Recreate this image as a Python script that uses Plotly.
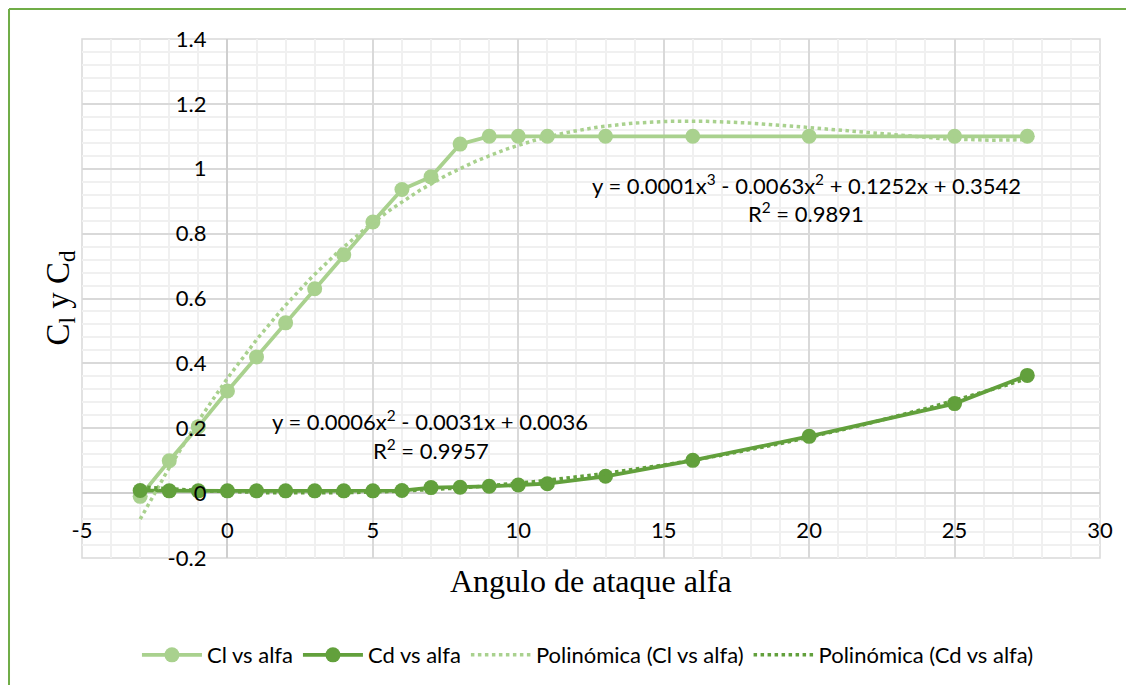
import numpy as np
import plotly.graph_objects as go

# ---- data ----
alpha = [-3, -2, -1, 0, 1, 2, 3, 4, 5, 6, 7, 8, 9, 10, 11, 13, 16, 20, 25, 27.5]
cl = [-0.01, 0.10, 0.205, 0.315, 0.42, 0.525, 0.63, 0.735, 0.836, 0.936, 0.975,
      1.076, 1.10, 1.10, 1.10, 1.10, 1.10, 1.10, 1.10, 1.10]
cd = [0.008, 0.007, 0.007, 0.007, 0.007, 0.007, 0.007, 0.007, 0.007, 0.008, 0.017,
      0.018, 0.021, 0.025, 0.029, 0.052, 0.101, 0.175, 0.276, 0.363]

eq_cl = "y = 0.0001x<sup>3</sup> - 0.0063x<sup>2</sup> + 0.1252x + 0.3542"
r2_cl = "R<sup>2</sup> = 0.9891"
eq_cd = "y = 0.0006x<sup>2</sup> - 0.0031x + 0.0036"
r2_cd = "R<sup>2</sup> = 0.9957"

x_ticks = [-5, 0, 5, 10, 15, 20, 25, 30]
y_ticks = [-0.2, 0, 0.2, 0.4, 0.6, 0.8, 1, 1.2, 1.4]
y_tick_text = ["-0.2", "0", "0.2", "0.4", "0.6", "0.8", "1", "1.2", "1.4"]

# ---- trendlines (polynomial fits, like Excel) ----
xa = np.array(alpha, dtype=float)
pcl = np.polyfit(xa, np.array(cl), 3)
pcd = np.polyfit(xa, np.array(cd), 2)
xs = np.linspace(xa.min(), xa.max(), 300)

C_CL = "#A9D18E"
C_CD = "#62A03C"
FONT = "Lato, 'Open Sans', sans-serif"
FS = 22

fig = go.Figure()
fig.add_trace(go.Scatter(x=alpha, y=cl, mode="lines+markers", name="Cl vs alfa",
                         line=dict(color=C_CL, width=3.8),
                         marker=dict(color=C_CL, size=15)))
fig.add_trace(go.Scatter(x=alpha, y=cd, mode="lines+markers", name="Cd vs alfa",
                         line=dict(color=C_CD, width=3.8),
                         marker=dict(color=C_CD, size=15)))
fig.add_trace(go.Scatter(x=xs, y=np.polyval(pcl, xs), mode="lines",
                         name="Polinómica (Cl vs alfa)",
                         line=dict(color=C_CL, width=3.5, dash="dot")))
fig.add_trace(go.Scatter(x=xs, y=np.polyval(pcd, xs), mode="lines",
                         name="Polinómica (Cd vs alfa)",
                         line=dict(color=C_CD, width=3.5, dash="dot")))

fig.update_layout(
    width=1134, height=685,
    margin=dict(l=74, r=42, t=31, b=135),
    paper_bgcolor="white", plot_bgcolor="white",
    font=dict(family=FONT, size=FS, color="#000000"),
    showlegend=True,
    legend=dict(orientation="h", x=0.497, xanchor="center", y=-0.187, yanchor="middle",
                font=dict(family=FONT, size=FS, color="#000000"),
                itemwidth=60, tracegroupgap=0),
    xaxis=dict(range=[-5, 30], tickvals=x_ticks, ticktext=[str(v) for v in x_ticks],
               showgrid=True, gridcolor="#D9D9D9", gridwidth=1.5,
               minor=dict(dtick=1, tick0=0, showgrid=True, gridcolor="#F0F0F0", gridwidth=1.5),
               zeroline=True, zerolinecolor="#CFCFCF", zerolinewidth=1.5,
               showline=False, ticks="",
               anchor="free", position=0.125, ticklabelstandoff=22,
               tickfont=dict(family=FONT, size=FS, color="#000000")),
    yaxis=dict(range=[-0.2, 1.4], tickvals=y_ticks, ticktext=y_tick_text,
               showgrid=True, gridcolor="#D9D9D9", gridwidth=1.5,
               minor=dict(dtick=0.04, tick0=0, showgrid=True, gridcolor="#F0F0F0", gridwidth=1.5),
               zeroline=True, zerolinecolor="#CFCFCF", zerolinewidth=1.5,
               showline=False, ticks="",
               anchor="free", position=5 / 35, ticklabelstandoff=21,
               tickfont=dict(family=FONT, size=FS, color="#000000")),
)

# plot area frame
fig.add_shape(type="rect", xref="x domain", yref="y domain", x0=0, x1=1, y0=0, y1=1,
              line=dict(color="#D9D9D9", width=1.5), layer="below")
# chart-area border (green): top and left edges
fig.add_shape(type="line", xref="paper", yref="paper", x0=-0.0717, x1=1.03, y0=1.0578, y1=1.0578,
              line=dict(color="#70AD47", width=2))
fig.add_shape(type="line", xref="paper", yref="paper", x0=-0.0717, x1=-0.0717, y0=-0.32, y1=1.0578,
              line=dict(color="#70AD47", width=2))

# axis titles
fig.add_annotation(text="Angulo de ataque alfa", xref="paper", yref="paper",
                   x=0.5, y=(557 - 580) / 519, xanchor="center", yanchor="middle",
                   showarrow=False, font=dict(family="Liberation Serif, Times New Roman, serif",
                                              size=32, color="#000000"))
fig.add_annotation(text="C<sub>l</sub> y C<sub>d</sub>", xref="paper", yref="paper",
                   x=(60 - 82) / 1018, y=0.5, xanchor="center", yanchor="middle",
                   textangle=-90, showarrow=False,
                   font=dict(family="Liberation Serif, Times New Roman, serif",
                             size=33, color="#000000"))

# trendline equations
for txt, x, y in [(eq_cl, 19.9, 0.951), (r2_cl, 19.9, 0.864),
                  (eq_cd, 6.95, 0.225), (r2_cd, 7.0, 0.136)]:
    fig.add_annotation(text=txt, x=x, y=y, xref="x", yref="y", showarrow=False,
                       xanchor="center", yanchor="middle",
                       font=dict(family=FONT, size=FS, color="#000000"))

fig.write_html("out.html")
